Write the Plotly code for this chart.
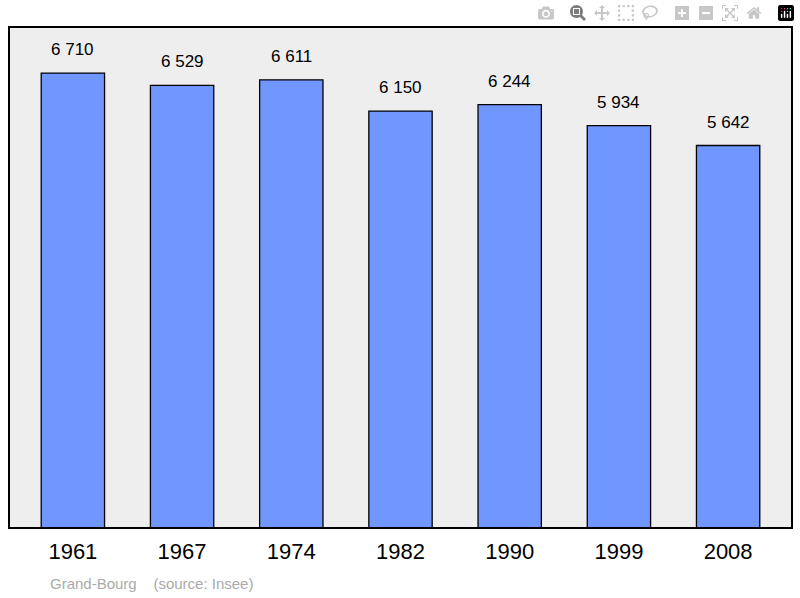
import plotly.graph_objects as go

years = ["1961", "1967", "1974", "1982", "1990", "1999", "2008"]
population = [6710, 6529, 6611, 6150, 6244, 5934, 5642]
labels = ["6 710", "6 529", "6 611", "6 150", "6 244", "5 934", "5 642"]

fig = go.Figure(go.Bar(
    x=years, y=population,
    marker=dict(color="#7097ff", line=dict(color="black", width=1.3)),
    width=0.58,
))
for i, (v, t) in enumerate(zip(population, labels)):
    fig.add_annotation(x=i, y=v, text=t, showarrow=False, yanchor="bottom", yshift=12,
                       font=dict(size=17, color="black", family="Liberation Sans"))
fig.add_shape(type="rect", xref="x domain", yref="y domain", x0=0, x1=1, y0=0, y1=1,
              line=dict(color="black", width=2), layer="above")
fig.add_annotation(xref="paper", yref="paper", x=0.05, y=-0.09, xanchor="left", yanchor="top",
                   text="Grand-Bourg    (source: Insee)", showarrow=False,
                   font=dict(size=15, color="#aaaaaa", family="Liberation Sans"))
fig.update_layout(
    width=800, height=598,
    margin=dict(l=9, r=8, t=27, b=70),
    plot_bgcolor="#eeeeee", paper_bgcolor="white",
    showlegend=False,
    xaxis=dict(type="category", range=[-0.585, 6.585],
               tickfont=dict(size=22, color="black", family="Liberation Sans"),
               showgrid=False, ticks="", ticklen=0, ticklabelstandoff=8),
    yaxis=dict(range=[0, 7390], visible=False, showgrid=False),
)
fig.write_html("out.html")
with open("out.html", encoding="utf-8") as f:
    html = f.read()
html = html.replace("<head>", "<head><style>html,body{margin:0;padding:0;}</style>", 1)
with open("out.html", "w", encoding="utf-8") as f:
    f.write(html)
